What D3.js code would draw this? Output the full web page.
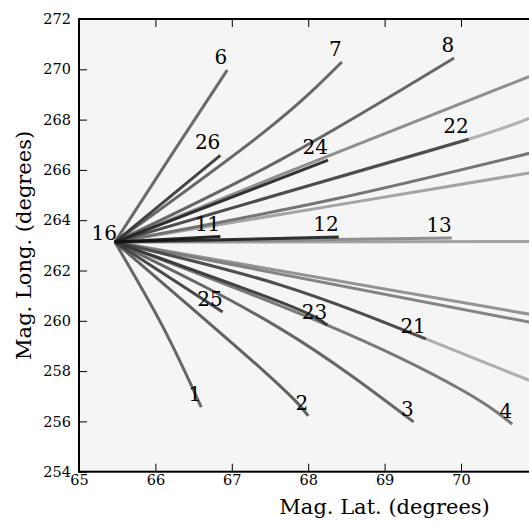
<!DOCTYPE html>
<html lang="en">
<head>
<meta charset="UTF-8">
<title>Mag. Lat. vs Mag. Long.</title>
<script src="https://d3js.org/d3.v7.min.js"></script>
<style>
  body { margin: 0; background: #fff; }
  svg text { font-family: "DejaVu Serif", serif; fill: #000; }
</style>
</head>
<body>
<svg width="529" height="523"></svg>
<script>
// trajectories from station 16 (unlabelled ones leave the view on the right)
const trackIds = ["", "", "", "", "", "", "", "", "13", "4", "3", "2", "1",
                  "6", "7", "8", "22", "21", "23", "25", "26", "24", "12", "11"];
const trackLat = [
  [65.47, 71.11],
  [65.47, 67.63, 70.10, 71.11],
  [65.47, 67.63, 69.54, 71.11],
  [65.47, 68.29, 71.11],
  [65.47, 67.63, 71.11],
  [65.47, 71.11],
  [65.47, 71.11],
  [65.47, 68.29, 71.11],
  [65.47, 69.88],
  [65.47, 68.25, 70.01, 70.67],
  [65.47, 67.63, 69.38],
  [65.47, 67.43, 68.00],
  [65.47, 66.10, 66.60],
  [65.47, 66.20, 66.94],
  [65.47, 67.42, 68.44],
  [65.47, 67.63, 69.91],
  [65.47, 67.63, 70.10],
  [65.47, 67.63, 69.54],
  [65.47, 67.63, 68.25],
  [65.47, 66.88],
  [65.47, 66.85],
  [65.47, 68.26],
  [65.47, 68.40],
  [65.47, 66.85]
];
const trackLon = [
  [263.13, 263.15],
  [263.13, 265.04, 267.22, 268.34],
  [263.13, 261.43, 259.28, 257.37],
  [263.13, 264.56, 265.99],
  [263.13, 265.79, 269.97],
  [263.13, 260.15],
  [263.13, 259.82],
  [263.13, 264.80, 266.82],
  [263.13, 263.29],
  [263.13, 259.83, 257.25, 255.89],
  [263.13, 259.70, 255.98],
  [263.13, 257.97, 256.22],
  [263.13, 259.75, 256.57],
  [263.13, 266.55, 269.97],
  [263.13, 267.50, 270.29],
  [263.13, 266.39, 270.45],
  [263.13, 265.04, 267.22],
  [263.13, 261.43, 259.28],
  [263.13, 260.75, 259.83],
  [263.13, 260.35],
  [263.13, 266.58],
  [263.13, 266.39],
  [263.13, 263.33],
  [263.13, 263.35]
];
const originLabel = "16";
const originLat = 65.47, originLon = 263.13;

// grey level of each track, same order as trackIds
const trackShade = ["#9a9a9a", "#ababab", "#a8a8a8", "#9c9c9c", "#858585", "#8a8a8a",
  "#7a7a7a", "#6a6a6a", "#858585", "#6e6e6e", "#5a5a5a", "#555555", "#5a5a5a",
  "#5e5e5e", "#5a5a5a", "#5a5a5a", "#444444", "#454545", "#333333", "#3a3a3a",
  "#333333", "#222222", "#222222", "#111111"];

const svg = d3.select("svg");
const m = { left: 79, top: 19, right: 690.2, bottom: 471.7 };

const x = d3.scaleLinear().domain([65, 73]).range([m.left, m.right]);
const y = d3.scaleLinear().domain([254, 272]).range([m.bottom, m.top]);

svg.append("rect")
  .attr("x", m.left).attr("y", m.top)
  .attr("width", m.right - m.left).attr("height", m.bottom - m.top)
  .attr("fill", "#f5f5f5");

svg.append("clipPath").attr("id", "plot")
  .append("rect")
  .attr("x", m.left).attr("y", m.top)
  .attr("width", m.right - m.left).attr("height", m.bottom - m.top);

const tracks = trackIds.map((id, i) => ({
  id: id,
  shade: trackShade[i],
  pts: trackLat[i].map((v, j) => [v, trackLon[i][j]])
}));

const line = d3.line()
  .x(d => x(d[0]))
  .y(d => y(d[1]))
  .curve(d3.curveNatural);

const g = svg.append("g").attr("clip-path", "url(#plot)");

g.selectAll("path.track")
  .data(tracks)
  .enter().append("path")
  .attr("class", "track")
  .attr("d", d => line(d.pts))
  .attr("fill", "none")
  .attr("stroke", d => d.shade)
  .attr("stroke-width", 3)
  .attr("stroke-opacity", 0.92);

// numbers at the end of each track
g.selectAll("text.num")
  .data(tracks.filter(d => d.id !== ""))
  .enter().append("text")
  .attr("class", "num")
  .attr("x", d => x(d.pts[d.pts.length - 1][0]))
  .attr("y", d => y(d.pts[d.pts.length - 1][1]))
  .attr("dx", 0)
  .attr("dy", -6)
  .attr("text-anchor", "end")
  .attr("font-size", "20px")
  .text(d => d.id);

g.append("text")
  .attr("x", x(originLat))
  .attr("y", y(originLon))
  .attr("dx", 2)
  .attr("dy", -2)
  .attr("text-anchor", "end")
  .attr("font-size", "20px")
  .text(originLabel);

// axes, ticks pointing inwards
const fmt = d3.format("d");
const axB = svg.append("g").attr("transform", `translate(0,${m.bottom})`)
  .call(d3.axisBottom(x).ticks(8).tickFormat(d => d > 70 ? "" : fmt(d))
    .tickSizeInner(-8).tickSizeOuter(0).tickPadding(3));
const axT = svg.append("g").attr("transform", `translate(0,${m.top})`)
  .call(d3.axisTop(x).ticks(8).tickFormat("").tickSizeInner(-8).tickSizeOuter(0));
const axL = svg.append("g").attr("transform", `translate(${m.left},0)`)
  .call(d3.axisLeft(y).ticks(9).tickFormat(fmt).tickSizeInner(-8).tickSizeOuter(0).tickPadding(8));

[axB, axT, axL].forEach(a => {
  a.select(".domain").remove();
  a.selectAll("text").attr("font-size", "14.5px").attr("font-family", "DejaVu Serif").attr("fill", "#000");
  a.selectAll("line").attr("stroke", "#000");
});

svg.append("rect")
  .attr("x", m.left).attr("y", m.top)
  .attr("width", m.right - m.left).attr("height", m.bottom - m.top)
  .attr("fill", "none")
  .attr("stroke", "#000")
  .attr("stroke-width", 2);

svg.append("text")
  .attr("x", (m.left + m.right) / 2)
  .attr("y", 514)
  .attr("text-anchor", "middle")
  .attr("font-size", "21px")
  .text("Mag. Lat. (degrees)");

svg.append("text")
  .attr("transform", `translate(31,${(m.top + m.bottom) / 2}) rotate(-90)`)
  .attr("text-anchor", "middle")
  .attr("font-size", "21px")
  .text("Mag. Long. (degrees)");
</script>
</body>
</html>
